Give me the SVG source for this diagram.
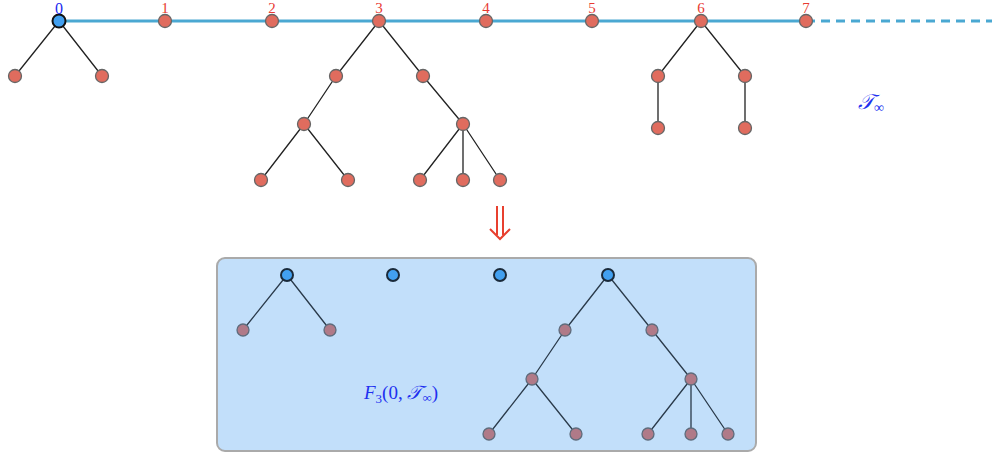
<svg xmlns="http://www.w3.org/2000/svg" width="992" height="456" viewBox="0 0 992 456">
<style>
.e{stroke:#222;stroke-width:1.3;fill:none}
.eb{stroke:#2a3a4a;stroke-width:1.3;fill:none}
.n{fill:#e06c5e;stroke:#666;stroke-width:1.3}
.m{fill:#b07a88;stroke:#5f6c7c;stroke-width:1.3}
.r{fill:#42a0f0;stroke:#111;stroke-width:2}
.rb{fill:#42a0f0;stroke:#1a2a3a;stroke-width:2}
.lab{font-family:"Liberation Serif",serif;font-size:15px;fill:#e83a32;text-anchor:middle}
.math{font-family:"Liberation Serif",serif;font-style:italic;fill:#2030f0}
</style>
<rect width="992" height="456" fill="#fff"/>
<g id="connectors">
<line x1="59" y1="21" x2="806" y2="21" stroke="#4aa8d2" stroke-width="3"/>
<line x1="806" y1="21" x2="992" y2="21" stroke="#4aa8d2" stroke-width="3" stroke-dasharray="9,6"/>
<path class="e" d="M59 21L15 76M59 21L102 76"/>
<path class="e" d="M379 21L336 76M379 21L423 76M336 76L304 124M304 124L261 180M304 124L348 180M423 76L463 124M463 124L420 180M463 124L463 180M463 124L500 180"/>
<path class="e" d="M701 21L658 76M701 21L745 76M658 76L658 128M745 76L745 128"/>
</g>
<g id="box">
<rect x="217" y="258" width="539" height="193" rx="8" fill="#c2dffa" stroke="#aaaaaa" stroke-width="2"/>
<path class="eb" d="M287 275L243 330M287 275L330 330"/>
<path class="eb" d="M608 275L565 330M608 275L652 330M565 330L532 379M532 379L489 434M532 379L576 434M652 330L691 379M691 379L648 434M691 379L691 434M691 379L728 434"/>
</g>
<g id="tree0">
<circle class="n" cx="15" cy="76" r="6.5"/><circle class="n" cx="102" cy="76" r="6.5"/>
<circle class="r" cx="59" cy="21" r="6.5"/>
<text x="59" y="14" font-family="Liberation Serif,serif" font-size="16" fill="#1a2af0" text-anchor="middle">0</text>
</g>
<g id="spine">
<circle class="n" cx="165" cy="21" r="6.5"/><text class="lab" x="165" y="13">1</text>
<circle class="n" cx="272" cy="21" r="6.5"/><text class="lab" x="272" y="13">2</text>
<circle class="n" cx="486" cy="21" r="6.5"/><text class="lab" x="486" y="13">4</text>
<circle class="n" cx="592" cy="21" r="6.5"/><text class="lab" x="592" y="13">5</text>
<circle class="n" cx="806" cy="21" r="6.5"/><text class="lab" x="806" y="13">7</text>
</g>
<g id="tree3">
<circle class="n" cx="379" cy="21" r="6.5"/><text class="lab" x="379" y="13">3</text>
<circle class="n" cx="336" cy="76" r="6.5"/><circle class="n" cx="423" cy="76" r="6.5"/>
<circle class="n" cx="304" cy="124" r="6.5"/><circle class="n" cx="463" cy="124" r="6.5"/>
<circle class="n" cx="261" cy="180" r="6.5"/><circle class="n" cx="348" cy="180" r="6.5"/>
<circle class="n" cx="420" cy="180" r="6.5"/><circle class="n" cx="463" cy="180" r="6.5"/><circle class="n" cx="500" cy="180" r="6.5"/>
</g>
<g id="tree6">
<circle class="n" cx="701" cy="21" r="6.5"/><text class="lab" x="701" y="13">6</text>
<circle class="n" cx="658" cy="76" r="6.5"/><circle class="n" cx="745" cy="76" r="6.5"/>
<circle class="n" cx="658" cy="128" r="6.5"/><circle class="n" cx="745" cy="128" r="6.5"/>
</g>
<g id="tinf">
<text class="math" x="858" y="109" font-size="21">𝒯<tspan font-size="14" font-style="normal" dy="3">∞</tspan></text>
</g>
<g id="arrow">
<path d="M497 206V235M503 206V235M490 229L500 239L510 229" fill="none" stroke="#e8402f" stroke-width="2"/>
</g>
<g id="f-trees">
<circle class="rb" cx="287" cy="275" r="6"/><circle class="m" cx="243" cy="330" r="6"/><circle class="m" cx="330" cy="330" r="6"/>
<circle class="rb" cx="393" cy="275" r="6"/>
<circle class="rb" cx="500" cy="275" r="6"/>
<circle class="rb" cx="608" cy="275" r="6"/>
<circle class="m" cx="565" cy="330" r="6"/><circle class="m" cx="652" cy="330" r="6"/>
<circle class="m" cx="532" cy="379" r="6"/><circle class="m" cx="691" cy="379" r="6"/>
<circle class="m" cx="489" cy="434" r="6"/><circle class="m" cx="576" cy="434" r="6"/>
<circle class="m" cx="648" cy="434" r="6"/><circle class="m" cx="691" cy="434" r="6"/><circle class="m" cx="728" cy="434" r="6"/>
</g>
<g id="flabel">
<text class="math" x="364" y="399" font-size="19">F<tspan font-size="13" font-style="normal" dy="4">3</tspan><tspan font-style="normal" dy="-4">(0, </tspan>𝒯<tspan font-size="13" font-style="normal" dy="3">∞</tspan><tspan font-style="normal" dy="-3">)</tspan></text>
</g>
</svg>
